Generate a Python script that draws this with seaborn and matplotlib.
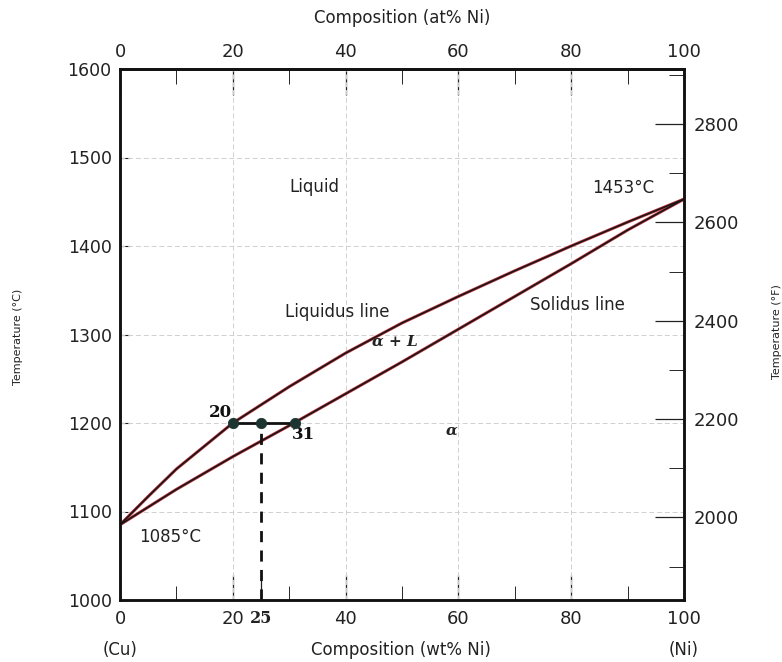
import matplotlib
matplotlib.use("Agg")
import matplotlib.pyplot as plt
import seaborn as sns
import pandas as pd
from matplotlib.ticker import MultipleLocator, FixedLocator

# ---- data ----
wt_ni = [0, 5, 10, 20, 30, 40, 50, 60, 70, 80, 90, 100]
liquidus_c = [1085, 1117, 1148, 1200, 1241, 1279, 1313, 1343, 1372, 1400, 1427, 1453]
solidus_c = [1085, 1105, 1125, 1162, 1197, 1233, 1269, 1306, 1343, 1380, 1418, 1453]
tie_x = [20, 25, 31]
tie_t = [1200, 1200, 1200]
alloy_wt = 25
x_ticks = [0, 20, 25, 40, 60, 80, 100]
top_ticks = [0, 20, 40, 60, 80, 100]
c_ticks = [1000, 1100, 1200, 1300, 1400, 1500, 1600]
f_ticks = [2000, 2200, 2400, 2600, 2800]

sns.set_style("white")
plt.rcParams["font.family"] = ["DejaVu Sans"]

fig = plt.figure(figsize=(7.82, 6.62), dpi=100)
ax = fig.add_axes([120 / 782, 62 / 662, 564 / 782, 531 / 662])

df = pd.DataFrame({"wt": wt_ni, "liq": liquidus_c, "sol": solidus_c})
for col in ["liq", "sol"]:
    sns.lineplot(data=df, x="wt", y=col, ax=ax, color="#c0353f", lw=2.2, zorder=3,
                 solid_joinstyle="round", solid_capstyle="round")
    sns.lineplot(data=df, x="wt", y=col, ax=ax, color="#161616", lw=1.15, zorder=4,
                 solid_joinstyle="round", solid_capstyle="round")

# tie line and alloy composition
ax.plot([tie_x[0], tie_x[-1]], [tie_t[0], tie_t[-1]], color="#111111", lw=2.0, zorder=5)
ax.plot([alloy_wt, alloy_wt], [c_ticks[0], tie_t[1]], color="#111111", lw=2.0,
        linestyle=(0, (4, 3)), zorder=5)
sns.scatterplot(x=tie_x, y=tie_t, ax=ax, color="#1d3531", s=55, edgecolor="#1d3531",
                zorder=6)

ax.set_xlim(0, 100)
ax.set_ylim(1000, 1600)
ax.set_xlabel("")
ax.set_ylabel("")

# grid
for v in [20, 40, 60, 80]:
    ax.axvline(v, color="#d0d0d0", lw=0.7, linestyle=(0, (5, 3)), zorder=1)
for v in c_ticks[1:-1]:
    ax.axhline(v, color="#d0d0d0", lw=0.7, linestyle=(0, (5, 3)), zorder=1)

for s in ax.spines.values():
    s.set_linewidth(1.8)
    s.set_color("#111111")

# bottom axis
ax.xaxis.set_major_locator(FixedLocator(x_ticks))
ax.set_xticklabels([str(t) for t in x_ticks])
ax.xaxis.set_minor_locator(FixedLocator([10, 30, 50, 70, 90]))
ax.tick_params(axis="x", which="major", direction="in", length=18, width=0.9,
               labelsize=13, pad=7, bottom=True, colors="#222222")
ax.tick_params(axis="x", which="minor", direction="in", length=10, width=0.7, bottom=True)
for lbl in ax.get_xticklabels():
    if lbl.get_text() == str(alloy_wt):
        lbl.set_fontfamily("DejaVu Serif")
        lbl.set_fontweight("bold")
        lbl.set_fontsize(11.5)

# left axis
ax.yaxis.set_major_locator(FixedLocator(c_ticks))
ax.tick_params(axis="y", which="major", direction="in", length=7, width=0.8,
               labelsize=12.5, pad=6, left=True, colors="#222222")

# top axis
top = ax.secondary_xaxis("top")
top.xaxis.set_major_locator(FixedLocator(top_ticks))
top.xaxis.set_minor_locator(FixedLocator([10, 30, 50, 70, 90]))
top.tick_params(axis="x", which="major", direction="in", length=19, width=0.9,
                labelsize=13, pad=6, colors="#222222")
top.tick_params(axis="x", which="minor", direction="in", length=11, width=0.7)
top.spines["top"].set_linewidth(1.8)
top.set_xlabel("Composition (at% Ni)", fontsize=12, labelpad=14, color="#222222")

# right axis (°F)
ax2 = ax.twinx()
ax2.set_ylim(1000 * 1.8 + 32, 1600 * 1.8 + 32)
ax2.yaxis.set_major_locator(FixedLocator(f_ticks))
ax2.yaxis.set_minor_locator(MultipleLocator(100))
ax2.tick_params(axis="y", which="major", direction="in", length=21, width=0.9,
                labelsize=13, pad=7, right=True, colors="#222222")
ax2.tick_params(axis="y", which="minor", direction="in", length=11, width=0.7, right=True)
for s in ax2.spines.values():
    s.set_linewidth(1.8)
    s.set_color("#111111")
ax2.grid(False)

# axis titles
fig.text(18 / 782, 1 - 337 / 662, "Temperature (°C)", rotation=90, ha="center",
         va="center", fontsize=8, color="#222222")
fig.text(777 / 782, 1 - 332 / 662, "Temperature (°F)", rotation=90, ha="center",
         va="center", fontsize=8, color="#222222")
fig.text(401 / 782, 1 - 650 / 662, "Composition (wt% Ni)", ha="center", va="center",
         fontsize=12, color="#222222")
fig.text(120 / 782, 1 - 650 / 662, "(Cu)", ha="center", va="center", fontsize=12,
         color="#222222")
fig.text(684 / 782, 1 - 650 / 662, "(Ni)", ha="center", va="center", fontsize=12,
         color="#222222")

# annotations
tc = "#222222"
ax.text(34.5, 1467, "Liquid", ha="center", va="center", fontsize=12, color=tc)
ax.text(89.3, 1466, "1453°C", ha="center", va="center", fontsize=12, color=tc)
ax.text(38.5, 1325, "Liquidus line", ha="center", va="center", fontsize=12, color=tc)
ax.text(81.1, 1333, "Solidus line", ha="center", va="center", fontsize=12, color=tc)
ax.text(48.8, 1292, "α + L", ha="center", va="center", fontsize=11, color=tc,
        family="DejaVu Serif", style="italic", fontweight="bold")
ax.text(58.8, 1191, "α", ha="center", va="center", fontsize=11, color=tc,
        family="DejaVu Serif", style="italic", fontweight="bold")
ax.text(8.8, 1071, "1085°C", ha="center", va="center", fontsize=12, color=tc)
ax.text(17.8, 1212, "20", ha="center", va="center", fontsize=12, color="#111111",
        family="DejaVu Serif", fontweight="bold")
ax.text(32.6, 1187, "31", ha="center", va="center", fontsize=12, color="#111111",
        family="DejaVu Serif", fontweight="bold")

fig.savefig("out.png", dpi=100)
